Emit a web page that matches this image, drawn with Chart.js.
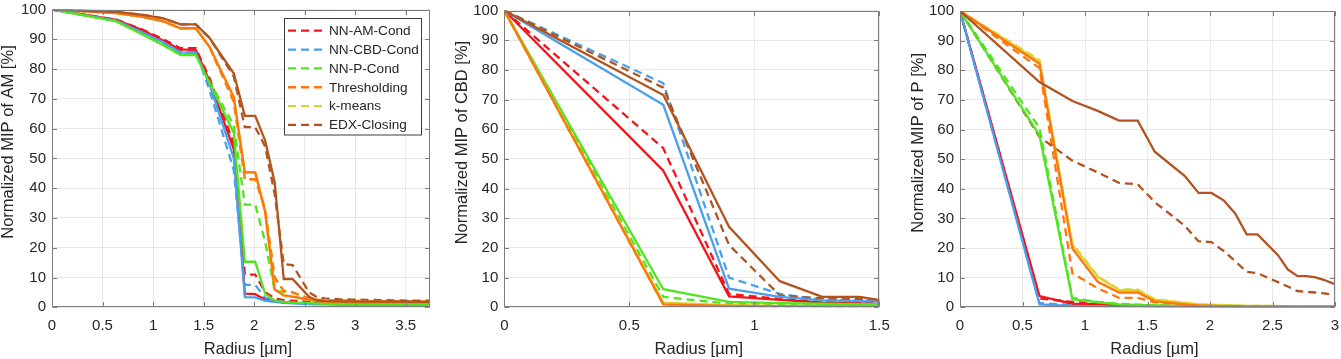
<!DOCTYPE html>
<html><head><meta charset="utf-8">
<script src="https://cdn.jsdelivr.net/npm/chart.js@4.4.1/dist/chart.umd.min.js"></script>
<style>
html,body{margin:0;padding:0;background:#fff;width:1341px;height:359px;overflow:hidden}
canvas{position:absolute;top:0}
</style></head><body>
<canvas id="cAM" width="450" height="359" style="left:0px"></canvas>
<canvas id="cCBD" width="450" height="359" style="left:450px"></canvas>
<canvas id="cP" width="441" height="359" style="left:900px"></canvas>
<script>
// ---------- categories / labels ----------
const methods = ['NN-AM-Cond', 'NN-CBD-Cond', 'NN-P-Cond', 'Thresholding', 'k-means', 'EDX-Closing'];
const yTitles = ['Normalized MIP of AM [%]', 'Normalized MIP of CBD [%]', 'Normalized MIP of P [%]'];
const xTitle = 'Radius [\u00b5m]';

// ---------- radius samples (x values) ----------
const radiusAM  = [0, 0.636, 0.899, 1.102, 1.272, 1.422, 1.558, 1.799, 1.908, 2.011, 2.109, 2.203, 2.293, 2.380, 2.544, 2.622, 2.698, 2.844, 3.116, 3.425, 3.763];
const radiusCBD = [0, 0.636, 0.899, 1.102, 1.272, 1.422, 1.558];
const radiusP   = [0, 0.636, 0.899, 1.102, 1.272, 1.422, 1.558, 1.799, 1.908, 2.011, 2.109, 2.203, 2.293, 2.380, 2.544, 2.622, 2.698, 2.772, 2.844, 2.915, 2.983, 3.116];

// ---------- AM panel (dashed = _d, solid = _s) ----------
const am_nnam_d  = [100, 96.6, 93.2, 90.0, 87.0, 87.0, 77.0, 55.0, 11.0, 11.0, 5.0, 3.0, 2.4, 2.2, 1.8, 1.6, 1.5, 1.4, 1.3, 1.2, 1.2];
const am_nncbd_d = [100, 96.4, 92.5, 89.3, 86.0, 86.0, 73.0, 46.0, 7.5, 7.5, 3.2, 2.2, 1.9, 1.7, 1.5, 1.4, 1.3, 1.2, 1.1, 1.1, 1.0];
const am_nnp_d   = [100, 96.2, 91.8, 88.3, 85.0, 85.0, 76.0, 61.0, 34.5, 34.5, 22.0, 5.5, 5.2, 5.0, 2.6, 2.2, 2.0, 1.8, 1.6, 1.5, 1.4];
const am_thr_d   = [100, 98.8, 97.5, 96.0, 93.7, 93.7, 87.5, 69.0, 43.0, 43.0, 33.0, 10.0, 5.5, 5.0, 3.0, 2.6, 2.4, 2.3, 2.1, 2.0, 1.9];
const am_km_d    = [100, 98.8, 97.5, 96.0, 93.7, 93.7, 87.5, 69.0, 43.0, 43.0, 33.0, 10.0, 5.5, 5.0, 3.0, 2.6, 2.4, 2.3, 2.1, 2.0, 1.9];
const am_edx_d   = [100, 99.2, 98.2, 97.0, 95.0, 95.0, 90.5, 77.5, 60.5, 60.5, 54.0, 38.0, 14.5, 14.2, 5.0, 3.4, 3.0, 2.7, 2.5, 2.3, 2.2];
const am_nnam_s  = [100, 96.5, 93.0, 89.5, 86.5, 86.5, 76.0, 53.0, 4.6, 4.4, 2.5, 2.0, 1.7, 1.5, 1.3, 1.3, 1.2, 1.1, 1.0, 1.0, 0.9];
const am_nncbd_s = [100, 96.3, 92.3, 89.0, 85.5, 85.5, 75.0, 50.0, 3.4, 3.3, 2.2, 1.8, 1.5, 1.3, 1.1, 1.0, 1.0, 0.9, 0.9, 0.8, 0.8];
const am_nnp_s   = [100, 96.0, 91.5, 88.0, 84.7, 84.7, 75.5, 58.5, 15.3, 15.3, 4.5, 2.3, 1.8, 1.6, 1.4, 1.3, 1.2, 1.1, 1.0, 1.0, 0.9];
const am_thr_s   = [100, 98.8, 97.5, 96.0, 93.7, 93.7, 87.5, 70.5, 45.3, 45.3, 32.0, 6.0, 4.0, 3.6, 2.6, 2.1, 2.0, 1.9, 1.8, 1.7, 1.6];
const am_km_s    = [100, 98.8, 97.5, 96.0, 93.7, 93.7, 87.5, 70.5, 45.3, 45.3, 32.0, 6.0, 4.0, 3.6, 2.6, 2.1, 2.0, 1.9, 1.8, 1.7, 1.6];
const am_edx_s   = [100, 99.2, 98.2, 97.0, 95.0, 95.0, 90.5, 78.5, 64.3, 64.3, 56.0, 42.0, 9.5, 9.5, 3.5, 2.3, 2.1, 2.0, 1.9, 1.9, 1.8];

// ---------- CBD panel ----------
const cbd_nnam_d  = [100, 53.6, 4.5, 2.8, 1.8, 1.5, 1.3];
const cbd_nncbd_d = [100, 75.5, 10.0, 4.5, 2.6, 2.3, 2.0];
const cbd_nnp_d   = [100, 3.5, 1.2, 1.0, 0.9, 0.8, 0.8];
const cbd_thr_d   = [100, 1.0, 0.4, 0.3, 0.3, 0.2, 0.2];
const cbd_km_d    = [100, 1.3, 0.5, 0.4, 0.3, 0.3, 0.3];
const cbd_edx_d   = [100, 74.0, 21.0, 4.0, 3.0, 2.8, 2.5];
const cbd_nnam_s  = [100, 46.0, 3.7, 2.5, 1.6, 1.3, 1.1];
const cbd_nncbd_s = [100, 68.2, 6.3, 3.5, 2.3, 2.1, 1.8];
const cbd_nnp_s   = [100, 6.1, 1.8, 1.4, 1.2, 1.1, 1.0];
const cbd_thr_s   = [100, 1.0, 0.5, 0.4, 0.3, 0.3, 0.3];
const cbd_km_s    = [100, 1.6, 0.7, 0.5, 0.4, 0.4, 0.4];
const cbd_edx_s   = [100, 71.5, 27.1, 8.8, 3.5, 3.5, 1.6];

// ---------- P panel ----------
const p_nnam_d  = [100, 3.0, 1.8, 1.2, 0.8, 0.6, 0.5, 0.4, 0.3, 0.3, 0.3, 0.2, 0.2, 0.2, 0.2, 0.2, 0.2, 0.2, 0.2, 0.2, 0.2, 0.2];
const p_nncbd_d = [100, 1.5, 0.7, 0.5, 0.3, 0.3, 0.2, 0.2, 0.2, 0.1, 0.1, 0.1, 0.1, 0.1, 0.1, 0.1, 0.1, 0.1, 0.1, 0.1, 0.1, 0.1];
const p_nnp_d   = [100, 60.5, 3.2, 1.8, 1.2, 0.9, 0.7, 0.5, 0.4, 0.4, 0.3, 0.3, 0.3, 0.3, 0.2, 0.2, 0.2, 0.2, 0.2, 0.2, 0.2, 0.2];
const p_thr_d   = [100, 80.7, 11.5, 6.4, 3.2, 3.2, 1.7, 0.8, 0.5, 0.4, 0.4, 0.3, 0.3, 0.3, 0.3, 0.2, 0.2, 0.2, 0.2, 0.2, 0.2, 0.2];
const p_km_d    = [100, 83.5, 21.5, 10.5, 6.0, 6.0, 2.7, 1.5, 1.0, 0.8, 0.7, 0.6, 0.5, 0.5, 0.4, 0.4, 0.4, 0.3, 0.3, 0.3, 0.3, 0.3];
const p_edx_d   = [100, 57.5, 49.5, 45.5, 42.0, 41.5, 35.5, 27.5, 22.3, 22.0, 19.0, 15.5, 12.0, 11.5, 8.5, 7.0, 5.5, 5.2, 5.0, 4.7, 4.3, 3.8];
const p_nnam_s  = [100, 3.8, 1.2, 1.0, 0.7, 0.5, 0.4, 0.3, 0.3, 0.2, 0.2, 0.2, 0.2, 0.1, 0.1, 0.1, 0.1, 0.1, 0.1, 0.1, 0.1, 0.1];
const p_nncbd_s = [100, 1.0, 0.5, 0.3, 0.2, 0.2, 0.1, 0.1, 0.1, 0.1, 0.1, 0.1, 0.1, 0.1, 0.1, 0.1, 0.1, 0.1, 0.1, 0.1, 0.1, 0.1];
const p_nnp_s   = [100, 58.0, 2.7, 1.7, 1.0, 0.8, 0.6, 0.4, 0.4, 0.3, 0.3, 0.3, 0.3, 0.2, 0.2, 0.2, 0.2, 0.2, 0.2, 0.2, 0.2, 0.2];
const p_thr_s   = [100, 82.2, 19.8, 8.6, 5.0, 5.0, 2.0, 1.0, 0.6, 0.5, 0.4, 0.4, 0.3, 0.3, 0.3, 0.3, 0.2, 0.2, 0.2, 0.2, 0.2, 0.2];
const p_km_s    = [100, 83.0, 21.0, 10.3, 5.8, 5.8, 2.6, 1.5, 1.0, 0.8, 0.7, 0.6, 0.5, 0.5, 0.4, 0.4, 0.4, 0.3, 0.3, 0.3, 0.3, 0.3];
const p_edx_s   = [100, 76.0, 69.6, 66.3, 63.0, 63.0, 52.5, 44.3, 38.6, 38.6, 36.1, 31.6, 24.6, 24.6, 17.6, 12.8, 10.6, 10.5, 10.1, 9.2, 8.1, 6.8];

// ---------- axis ticks ----------
const yTickStep = 10;
const xTickStep = 0.5;
const xMaxAM = 3.74, xMaxCBD = 1.5, xMaxP = 3.0;

// ---------- styles ----------
const seriesColors = ['rgb(240,22,28)', 'rgb(74,160,238)', 'rgb(82,228,32)', 'rgb(255,118,12)', 'rgb(222,210,48)', 'rgb(178,84,32)'];
const FONT = '"Liberation Sans", Arial, Helvetica, sans-serif';
const TXT = '#262626';
const LW = 2.3;
const drawSeq = [0, 1, 2, 4, 3, 5]; // yellow below orange

function buildDatasets(radius, dashed, solid) {
  const ds = [];
  for (let i = 0; i < 6; i++) {
    ds.push({
      label: methods[i], data: radius.map((r, j) => ({x: r, y: dashed[i][j]})),
      borderColor: seriesColors[i], borderWidth: LW, borderDash: [8, 5],
      pointRadius: 0, tension: 0, fill: false, legendRow: i,
      order: 100 - drawSeq.indexOf(i)
    });
  }
  for (let i = 0; i < 6; i++) {
    ds.push({
      label: methods[i] + ' ', data: radius.map((r, j) => ({x: r, y: solid[i][j]})),
      borderColor: seriesColors[i], borderWidth: LW,
      pointRadius: 0, tension: 0, fill: false,
      order: 50 - drawSeq.indexOf(i)
    });
  }
  return ds;
}

const framePlugin = {
  id: 'frame',
  afterDraw(chart, args, o) {
    const {ctx, chartArea: a, scales: {x, y}} = chart;
    const L = Math.round(a.left) + 0.5, R = Math.round(a.right) - 0.5;
    const T = Math.round(a.top) + 0.5, B = Math.round(a.bottom) - 0.5;
    ctx.save();
    ctx.strokeStyle = 'rgb(125,125,125)';
    ctx.lineWidth = 1;
    const tl = 4.5;
    ctx.beginPath();
    x.ticks.forEach(t => {
      const px = Math.round(x.getPixelForValue(t.value)) + 0.5;
      ctx.moveTo(px, B); ctx.lineTo(px, B - tl);
      ctx.moveTo(px, T); ctx.lineTo(px, T + tl);
    });
    y.ticks.forEach(t => {
      const py = Math.round(y.getPixelForValue(t.value)) + 0.5;
      ctx.moveTo(L, py); ctx.lineTo(L + tl, py);
      ctx.moveTo(R, py); ctx.lineTo(R - tl, py);
    });
    ctx.stroke();
    ctx.strokeRect(L, T, R - L, B - T);
    // axis titles
    ctx.fillStyle = TXT;
    ctx.font = '16.5px ' + FONT;
    ctx.textAlign = 'center';
    ctx.textBaseline = 'middle';
    ctx.fillText(o.xTitle, (a.left + a.right) / 2 + 7, 349.5);
    ctx.save();
    ctx.translate(a.left - o.yTitleOff, a.top + 0.445 * (a.bottom - a.top));
    ctx.rotate(-Math.PI / 2);
    ctx.fillText(o.yTitle, 0, 0);
    ctx.restore();
    // legend
    if (o.legend) {
      const bx = 284.5, by = 18.5, bw = 137, bh = 116.5;
      ctx.fillStyle = '#fff';
      ctx.fillRect(bx, by, bw, bh);
      ctx.strokeStyle = 'rgb(60,60,60)';
      ctx.strokeRect(bx, by, bw, bh);
      ctx.font = '13.6px ' + FONT;
      ctx.textAlign = 'left';
      ctx.textBaseline = 'middle';
      chart.data.datasets.filter(d => d.legendRow !== undefined).forEach(d => {
        const ry = 30.7 + d.legendRow * 18.85;
        ctx.save();
        ctx.strokeStyle = d.borderColor; ctx.lineWidth = LW;
        ctx.setLineDash(d.borderDash);
        ctx.beginPath(); ctx.moveTo(288, ry); ctx.lineTo(323, ry); ctx.stroke();
        ctx.restore();
        ctx.fillStyle = TXT;
        ctx.fillText(d.label, 329, ry + 0.5);
      });
    }
    ctx.restore();
  }
};

const fmt = v => String(Math.round(v * 100) / 100);

function makeChart(id, radius, dashed, solid, xmax, opts) {
  return new Chart(document.getElementById(id), {
    type: 'line',
    data: {datasets: buildDatasets(radius, dashed, solid)},
    plugins: [framePlugin],
    options: {
      responsive: false, animation: false, devicePixelRatio: 1,
      layout: {padding: {left: 0, right: opts.padRight, top: opts.padTop, bottom: 0}},
      plugins: {
        legend: {display: false}, tooltip: {enabled: false},
        frame: {xTitle: xTitle, yTitle: opts.yTitle, yTitleOff: opts.yTitleOff, legend: opts.legend}
      },
      scales: {
        x: {
          type: 'linear', min: 0, max: xmax,
          ticks: {stepSize: xTickStep, includeBounds: false, autoSkip: false, maxRotation: 0,
                  color: TXT, font: {family: FONT, size: 15}, padding: 9.5, callback: fmt},
          grid: {color: 'rgb(232,232,232)', drawTicks: false, lineWidth: 1},
          border: {display: false},
          afterFit: s => { s.height = 359 - 307.3; s.paddingLeft = 0; s.paddingRight = 0; }
        },
        y: {
          type: 'linear', min: 0, max: 100,
          ticks: {stepSize: yTickStep, autoSkip: false, color: TXT,
                  font: {family: FONT, size: 15, lineHeight: 1}, padding: 6, callback: fmt},
          grid: {color: 'rgb(232,232,232)', drawTicks: false, lineWidth: 1},
          border: {display: false},
          afterFit: s => { s.width = opts.yWidth; s.paddingTop = 0; s.paddingBottom = 0; }
        }
      }
    }
  });
}

makeChart('cAM', radiusAM,
  [am_nnam_d, am_nncbd_d, am_nnp_d, am_thr_d, am_km_d, am_edx_d],
  [am_nnam_s, am_nncbd_s, am_nnp_s, am_thr_s, am_km_s, am_edx_s],
  xMaxAM, {padRight: 20, padTop: 9.5, yWidth: 52, yTitle: yTitles[0], yTitleOff: 43.5, legend: true});
makeChart('cCBD', radiusCBD,
  [cbd_nnam_d, cbd_nncbd_d, cbd_nnp_d, cbd_thr_d, cbd_km_d, cbd_edx_d],
  [cbd_nnam_s, cbd_nncbd_s, cbd_nnp_s, cbd_thr_s, cbd_km_s, cbd_edx_s],
  xMaxCBD, {padRight: 20.7, padTop: 10.5, yWidth: 54.3, yTitle: yTitles[1], yTitleOff: 41.8, legend: false});
makeChart('cP', radiusP,
  [p_nnam_d, p_nncbd_d, p_nnp_d, p_thr_d, p_km_d, p_edx_d],
  [p_nnam_s, p_nncbd_s, p_nnp_s, p_thr_s, p_km_s, p_edx_s],
  xMaxP, {padRight: 6, padTop: 11, yWidth: 60, yTitle: yTitles[2], yTitleOff: 41.7, legend: false});
</script>
</body></html>
